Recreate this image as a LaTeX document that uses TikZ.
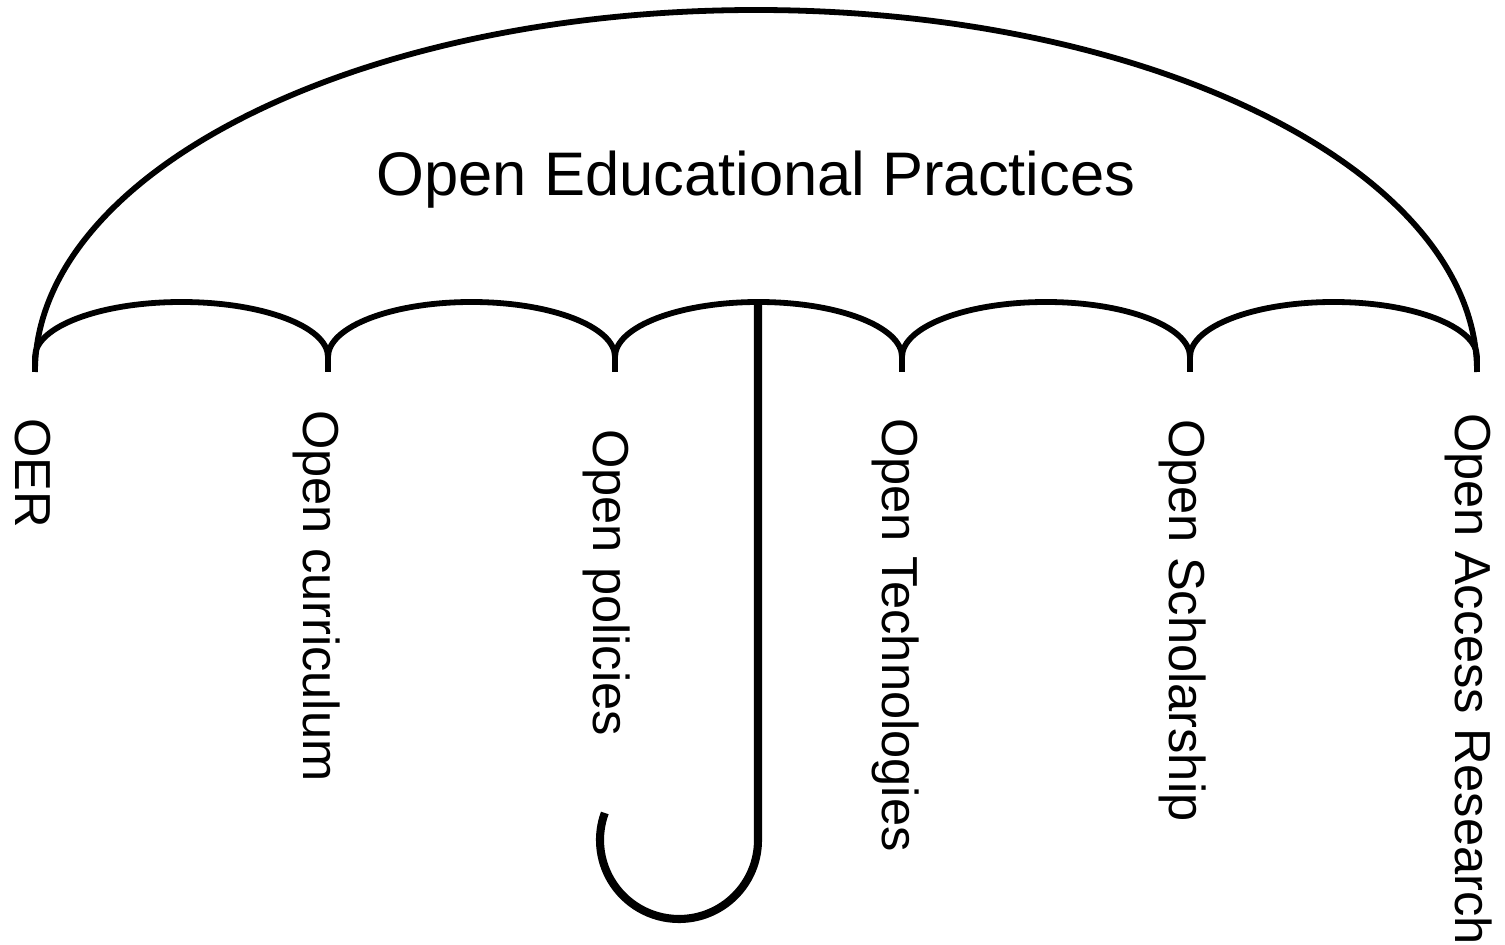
\documentclass[tikz,border=0pt]{standalone}
\usepackage{fontspec}
\setmainfont{Liberation Sans}

\begin{document}
\begin{tikzpicture}[
  x=0.02cm,
  y=-0.02cm,
  canopy/.style={
    line width=3.3pt,
    line join=round,
  },
  shaft/.style={
    line width=4.6pt,
  },
  rib label/.style={
    rotate=-90,
    anchor=base west,
    inner sep=0pt,
    font=\fontsize{28.8}{34}\selectfont,
  },
  title label/.style={
    anchor=base,
    inner sep=0pt,
    font=\fontsize{35}{42}\selectfont,
  }
]
\useasboundingbox (0,0) rectangle (1505,945);
% outer edge
\draw[canopy] (35,372) arc[start angle=180,end angle=360,x radius=721,y radius=362];
% scallops between the rib tips
\foreach \a/\b in {35/328,328/615,615/902,902/1190,1190/1477} {
  \draw[canopy] (\a,372) -- (\a,357)
    arc[start angle=180,end angle=360,x radius={(\b-\a)/2},y radius=55] -- (\b,372);
}
% handle
\draw[shaft] (758,302) -- (758,840) arc[start angle=0,end angle=200,radius=79];
\node[title label] (opep) at (756,196) {Open Educational Practices};
\foreach \name/\x/\y/\txt in {oer/15/418/OER,curriculum/303/410/Open curriculum,
    policies/593/429/Open policies,technologies/882/418/Open Technologies,
    scholarship/1169/419/Open Scholarship,research/1455/413/Open Access Research} {
  \node[rib label] (\name) at (\x,\y) {\txt};
}
%\draw[red] (0,0) rectangle (1505,945);
\end{tikzpicture}
\end{document}
